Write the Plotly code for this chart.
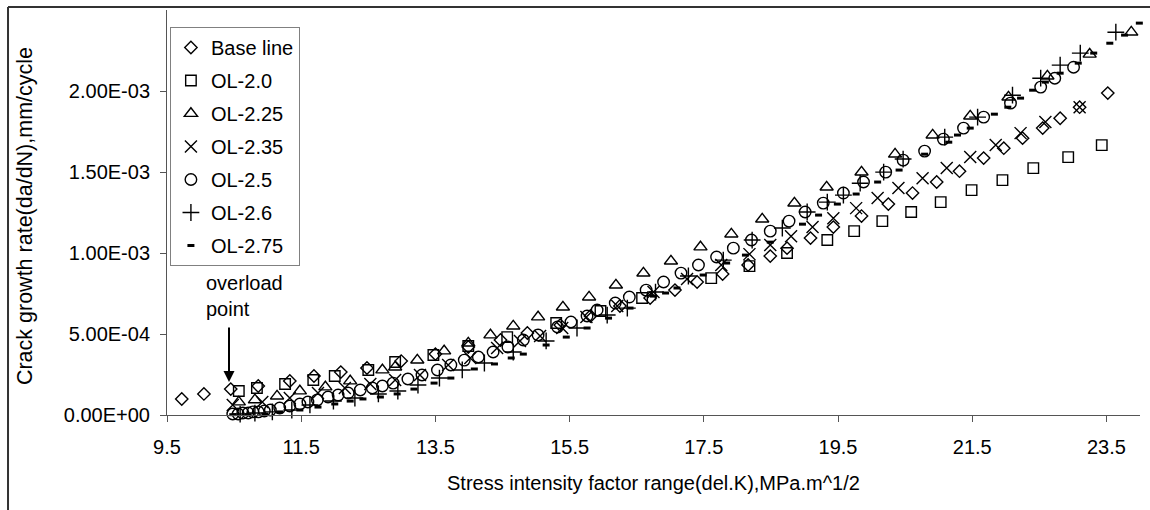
import plotly.graph_objects as go

# ---- data ----
series_names = ["Base line", "OL-2.0", "OL-2.25", "OL-2.35", "OL-2.5", "OL-2.6", "OL-2.75"]

base_x = [9.72, 10.05, 10.45, 10.86, 11.33, 11.69, 12.09, 12.48, 12.99, 13.50,
          13.99, 14.47, 14.87, 15.36, 15.81, 16.25, 16.70, 17.07, 17.40, 17.78,
          18.16, 18.49, 18.74, 19.09, 19.43, 19.85, 20.25, 20.61, 20.97, 21.31,
          21.67, 21.97, 22.25, 22.55, 22.81, 23.10, 23.52]
base_y = [9.9e-5, 1.30e-4, 1.60e-4, 1.79e-4, 2.10e-4, 2.41e-4, 2.65e-4, 2.90e-4, 3.33e-4, 3.76e-4,
          4.20e-4, 4.63e-4, 5.06e-4, 5.55e-4, 6.11e-4, 6.73e-4, 7.22e-4, 7.71e-4, 8.21e-4, 8.70e-4,
          9.26e-4, 9.81e-4, 1.030e-3, 1.092e-3, 1.160e-3, 1.228e-3, 1.302e-3, 1.370e-3, 1.438e-3, 1.505e-3,
          1.586e-3, 1.647e-3, 1.709e-3, 1.771e-3, 1.832e-3, 1.900e-3, 1.987e-3]

ol20_x = [10.57, 10.84, 11.26, 11.68, 12.00, 12.50, 12.90, 13.47, 13.99, 14.57,
          15.30, 15.96, 16.58, 17.61, 18.18, 18.74, 19.34, 19.74, 20.16, 20.59,
          21.03, 21.49, 21.95, 22.41, 22.93, 23.43]
ol20_y = [1.48e-4, 1.67e-4, 1.91e-4, 2.16e-4, 2.41e-4, 2.78e-4, 3.27e-4, 3.70e-4, 4.26e-4, 4.81e-4,
          5.68e-4, 6.42e-4, 7.22e-4, 8.45e-4, 9.19e-4, 1.000e-3, 1.080e-3, 1.135e-3, 1.197e-3, 1.253e-3,
          1.314e-3, 1.388e-3, 1.450e-3, 1.524e-3, 1.592e-3, 1.666e-3]

ol225_x = [10.57, 10.81, 11.14, 11.48, 11.86, 12.23, 12.71, 12.90, 13.23, 13.63,
           13.99, 14.32, 14.66, 15.03, 15.40, 15.79, 16.19, 16.60, 17.01, 17.45,
           17.91, 18.37, 18.85, 19.33, 19.85, 20.35, 20.91, 21.47, 22.04, 22.62,
           23.25, 23.87]
ol225_y = [8.0e-5, 9.3e-5, 1.17e-4, 1.48e-4, 1.73e-4, 2.10e-4, 2.78e-4, 2.96e-4, 3.39e-4, 3.95e-4,
           4.44e-4, 4.94e-4, 5.49e-4, 6.05e-4, 6.66e-4, 7.28e-4, 8.02e-4, 8.76e-4, 9.50e-4, 1.037e-3,
           1.117e-3, 1.209e-3, 1.308e-3, 1.407e-3, 1.499e-3, 1.610e-3, 1.728e-3, 1.845e-3, 1.962e-3, 2.092e-3,
           2.227e-3, 2.363e-3]

ol235_x = [10.48, 10.92, 11.33, 11.75, 12.15, 12.53, 12.90, 13.27, 13.69, 14.02,
           14.42, 14.76, 15.06, 15.39, 15.75, 16.21, 16.75, 17.25, 17.76, 18.18,
           18.49, 18.80, 19.12, 19.43, 19.77, 20.09, 20.40, 20.76, 21.12, 21.47,
           21.85, 22.22, 22.59, 23.10]
ol235_y = [6.2e-5, 8.0e-5, 1.05e-4, 1.36e-4, 1.67e-4, 1.91e-4, 2.16e-4, 2.47e-4, 3.09e-4, 3.52e-4,
           4.13e-4, 4.57e-4, 4.87e-4, 5.37e-4, 6.05e-4, 6.73e-4, 7.59e-4, 8.39e-4, 9.26e-4, 9.93e-4,
           1.049e-3, 1.104e-3, 1.160e-3, 1.215e-3, 1.277e-3, 1.339e-3, 1.401e-3, 1.462e-3, 1.524e-3, 1.592e-3,
           1.666e-3, 1.740e-3, 1.808e-3, 1.900e-3]

ol25_x = [10.48, 10.56, 10.63, 10.71, 10.78, 10.86, 10.95, 11.04, 11.18, 11.33,
          11.48, 11.60, 11.74, 11.90, 12.05, 12.20, 12.38, 12.56, 12.71, 12.87,
          13.09, 13.30, 13.53, 13.73, 13.93, 14.14, 14.36, 14.58, 14.81, 15.03,
          15.32, 15.52, 15.76, 15.91, 16.18, 16.39, 16.64, 16.90, 17.16, 17.42,
          17.69, 17.94, 18.21, 18.49, 18.77, 19.01, 19.28, 19.58, 19.88, 20.21,
          20.47, 20.79, 21.07, 21.37, 21.67, 22.07, 22.52, 22.73, 23.01]
ol25_y = [6e-6, 6e-6, 1.2e-5, 1.2e-5, 1.9e-5, 1.9e-5, 2.5e-5, 3.1e-5, 4.3e-5, 5.6e-5,
          6.8e-5, 8.0e-5, 9.3e-5, 1.11e-4, 1.23e-4, 1.36e-4, 1.54e-4, 1.67e-4, 1.79e-4, 1.97e-4,
          2.22e-4, 2.47e-4, 2.78e-4, 3.09e-4, 3.39e-4, 3.58e-4, 3.89e-4, 4.20e-4, 4.63e-4, 4.94e-4,
          5.43e-4, 5.74e-4, 6.11e-4, 6.48e-4, 6.91e-4, 7.28e-4, 7.71e-4, 8.21e-4, 8.76e-4, 9.26e-4,
          9.75e-4, 1.030e-3, 1.080e-3, 1.135e-3, 1.197e-3, 1.253e-3, 1.308e-3, 1.370e-3, 1.438e-3, 1.499e-3,
          1.573e-3, 1.629e-3, 1.703e-3, 1.771e-3, 1.839e-3, 1.925e-3, 2.024e-3, 2.079e-3, 2.147e-3]

ol26_x = [10.59, 10.81, 11.07, 11.36, 11.63, 11.98, 12.30, 12.65, 12.94, 13.24,
          13.56, 13.90, 14.23, 14.66, 15.15, 15.61, 16.06, 16.36, 16.78, 17.27,
          17.79, 18.22, 18.67, 19.04, 19.34, 19.58, 19.83, 20.18, 20.47, 21.09,
          21.58, 22.10, 22.52, 22.81, 23.11, 23.64]
ol26_y = [6e-6, 1.2e-5, 1.9e-5, 3.1e-5, 6.2e-5, 8.6e-5, 1.05e-4, 1.30e-4, 1.48e-4, 1.85e-4,
          2.28e-4, 2.78e-4, 3.21e-4, 3.89e-4, 4.57e-4, 5.37e-4, 6.17e-4, 6.60e-4, 7.59e-4, 8.58e-4,
          9.56e-4, 1.080e-3, 1.154e-3, 1.253e-3, 1.314e-3, 1.357e-3, 1.431e-3, 1.499e-3, 1.580e-3, 1.715e-3,
          1.839e-3, 1.974e-3, 2.079e-3, 2.160e-3, 2.234e-3, 2.363e-3]

ol275_x = [10.48, 10.71, 10.96, 11.18, 11.48, 11.75, 12.00, 12.23, 12.42, 12.68,
           12.93, 13.18, 13.48, 13.73, 14.08, 14.38, 14.63, 14.81, 15.15, 15.45,
           15.76, 16.08, 16.40, 16.75, 16.93, 17.10, 17.49, 17.84, 18.12, 18.49,
           18.97, 19.21, 19.49, 19.77, 20.09, 20.41, 20.79, 21.15, 21.28, 21.47,
           21.83, 22.03, 22.22, 22.40, 22.59, 22.81, 23.08, 23.31, 23.55, 23.77,
           23.99]
ol275_y = [2e-6, 2e-6, 6e-6, 1.9e-5, 3.1e-5, 4.9e-5, 6.8e-5, 8.6e-5, 9.9e-5, 1.11e-4,
           1.30e-4, 1.60e-4, 1.97e-4, 2.28e-4, 2.84e-4, 3.15e-4, 3.52e-4, 3.76e-4, 4.32e-4, 4.81e-4,
           5.37e-4, 5.98e-4, 6.60e-4, 7.34e-4, 7.53e-4, 7.84e-4, 8.64e-4, 9.38e-4, 9.87e-4, 1.067e-3,
           1.178e-3, 1.234e-3, 1.302e-3, 1.364e-3, 1.438e-3, 1.512e-3, 1.610e-3, 1.684e-3, 1.728e-3, 1.771e-3,
           1.857e-3, 1.900e-3, 1.956e-3, 2.005e-3, 2.055e-3, 2.110e-3, 2.172e-3, 2.234e-3, 2.295e-3, 2.345e-3,
           2.419e-3]

x_tick_vals = [9.5, 11.5, 13.5, 15.5, 17.5, 19.5, 21.5, 23.5]
x_tick_text = ["9.5", "11.5", "13.5", "15.5", "17.5", "19.5", "21.5", "23.5"]
y_tick_vals = [0, 5e-4, 1e-3, 1.5e-3, 2e-3]
y_tick_text = ["0.00E+00", "5.00E-04", "1.00E-03", "1.50E-03", "2.00E-03"]

# ---- styling ----
FONT = "Liberation Sans, Arial, sans-serif"
FS = 20
LW = 1.4
styles = [
    dict(symbol="diamond-open", size=9.5, line=dict(width=LW, color="black")),
    dict(symbol="square-open", size=10.5, line=dict(width=LW, color="black")),
    dict(symbol="triangle-up-open", size=11.5, line=dict(width=LW, color="black")),
    dict(symbol="x-thin-open", size=12, line=dict(width=LW, color="black")),
    dict(symbol="circle-open", size=11.5, line=dict(width=LW, color="black")),
    dict(symbol="cross-thin-open", size=12, line=dict(width=LW, color="black")),
    dict(symbol="line-ew-open", size=5, line=dict(width=3, color="black")),
]
xs = [base_x, ol20_x, ol225_x, ol235_x, ol25_x, ol26_x, ol275_x]
ys = [base_y, ol20_y, ol225_y, ol235_y, ol25_y, ol26_y, ol275_y]

fig = go.Figure()
for i, (name, x, y, st) in enumerate(zip(series_names, xs, ys, styles)):
    fig.add_trace(go.Scatter(
        x=x, y=y, mode="markers", name=name, legendgroup=f"g{i}",
        marker=dict(color="black", **st), cliponaxis=False,
    ))

fig.update_layout(
    width=1150, height=510,
    margin=dict(l=167, r=10, t=10, b=95),
    paper_bgcolor="white", plot_bgcolor="white",
    font=dict(family=FONT, size=FS, color="black"),
    showlegend=True,
    legend=dict(
        x=0.003, y=0.958, xanchor="left", yanchor="top",
        bgcolor="white", bordercolor="#808080", borderwidth=1,
        font=dict(family=FONT, size=FS, color="black"),
        tracegroupgap=4, itemwidth=30,
    ),
    xaxis=dict(
        range=[9.5, 24.0], showgrid=False, zeroline=False,
        showline=True, linecolor="#555555", linewidth=1,
        ticks="outside", ticklen=6, tickcolor="#555555",
        tickvals=x_tick_vals, ticktext=x_tick_text,
        ticklabelstandoff=8,
    ),
    yaxis=dict(
        range=[0, 2.5e-3], showgrid=False, zeroline=False,
        showline=True, linecolor="#555555", linewidth=1,
        ticks="outside", ticklen=6, tickcolor="#555555",
        tickvals=y_tick_vals, ticktext=y_tick_text,
        ticklabelstandoff=6,
    ),
    annotations=[
        dict(text="Crack growth rate(da/dN),mm/cycle", xref="paper", yref="paper",
             x=-0.146, y=0.491, textangle=-90, showarrow=False,
             xanchor="center", yanchor="middle", font=dict(size=21.5)),
        dict(text="Stress intensity factor range(del.K),MPa.m^1/2", xref="paper", yref="paper",
             x=0.5, y=-0.168, showarrow=False, xanchor="center", yanchor="middle",
             font=dict(size=FS)),
        dict(text="overload<br>point", xref="paper", yref="paper",
             x=0.038, y=0.2926, showarrow=False, xanchor="left", yanchor="middle",
             align="left", font=dict(size=FS)),
        dict(text="", xref="x", yref="y", x=10.424, y=2.04e-4,
             ax=0, ay=-56, showarrow=True, arrowhead=2, arrowsize=1.1,
             arrowwidth=2, arrowcolor="black"),
    ],
    shapes=[
        dict(type="line", xref="paper", yref="paper", x0=-0.1634, x1=1.05,
             y0=1.0074, y1=1.0074, line=dict(color="#333333", width=2)),
        dict(type="line", xref="paper", yref="paper", x0=-0.1634, x1=-0.1634,
             y0=1.0074, y1=-0.26, line=dict(color="#333333", width=2)),
    ],
)

fig.write_html("out.html")
